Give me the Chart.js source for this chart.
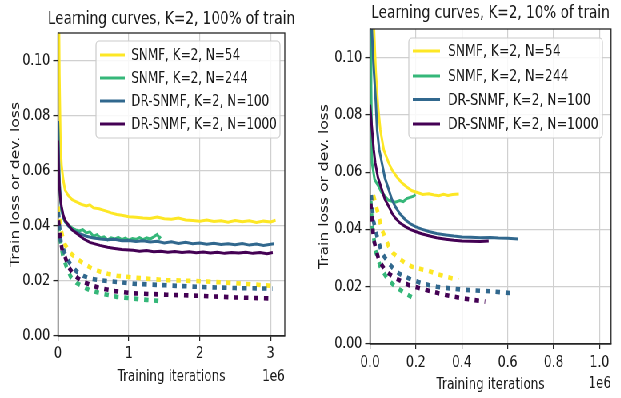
<!DOCTYPE html>
<html><head><meta charset="utf-8">
<script src="https://cdn.jsdelivr.net/npm/chart.js@4/dist/chart.umd.min.js"></script>
<style>
html,body{margin:0;padding:0;background:#fff;overflow:hidden;width:621px;height:398px;}
#wrap{position:absolute;left:0;top:0;width:777px;height:398px;transform:scaleX(0.8);transform-origin:0 0;}
#c1{position:absolute;left:0;top:0;}
#c2{position:absolute;left:388px;top:0;}
</style></head><body>
<div id="wrap"><canvas id="c1" width="388" height="398"></canvas><canvas id="c2" width="389" height="398"></canvas></div>
<script>
// ---------- data (x in units of 1e6 training iterations) ----------
const seriesNames = ['SNMF, K=2, N=54', 'SNMF, K=2, N=244', 'DR-SNMF, K=2, N=100', 'DR-SNMF, K=2, N=1000'];
const seriesColors = ['#fde725', '#35b779', '#31688e', '#440154'];

const xTicksFull = [0, 1, 2, 3];
const xTickLabelsFull = ['0', '1', '2', '3'];
const xTicksTen = [0, 0.2, 0.4, 0.6, 0.8, 1.0];
const xTickLabelsTen = ['0.0', '0.2', '0.4', '0.6', '0.8', '1.0'];
const yTicks = [0, 0.02, 0.04, 0.06, 0.08, 0.10];
const yTickLabels = ['0.00', '0.02', '0.04', '0.06', '0.08', '0.10'];

// 100% of train: solid curves
const full_snmf54 = [[0,0.16],[0.02,0.095],[0.035,0.07],[0.05,0.062],[0.075,0.0565],[0.1,0.053],[0.145,0.051],[0.2,0.0495],[0.26,0.0487],[0.33,0.0478],[0.4,0.0472],[0.45,0.0476],[0.5,0.0465],[0.58,0.0462],[0.66,0.0455],[0.75,0.0447],[0.83,0.0441],[0.9,0.0438],[1.0,0.0433],[1.1,0.0431],[1.2,0.0428],[1.3,0.0427],[1.4,0.0432],[1.5,0.0426],[1.6,0.0424],[1.7,0.0428],[1.8,0.0421],[1.9,0.0419],[2.0,0.0417],[2.1,0.0421],[2.2,0.0416],[2.3,0.0418],[2.4,0.0413],[2.5,0.0419],[2.6,0.0415],[2.7,0.0418],[2.8,0.0412],[2.9,0.0417],[3.0,0.0414],[3.07,0.042]];
const full_snmf244 = [[0,0.078],[0.01,0.065],[0.02,0.056],[0.035,0.049],[0.05,0.0455],[0.075,0.043],[0.1,0.0415],[0.15,0.0402],[0.2,0.0392],[0.25,0.0385],[0.3,0.0381],[0.35,0.0386],[0.4,0.0374],[0.45,0.0378],[0.5,0.0362],[0.55,0.0368],[0.6,0.0356],[0.65,0.036],[0.7,0.0349],[0.75,0.0356],[0.8,0.0352],[0.85,0.0358],[0.9,0.035],[0.95,0.0355],[1.0,0.0348],[1.05,0.0354],[1.1,0.0351],[1.15,0.0357],[1.2,0.035],[1.25,0.0356],[1.3,0.0352],[1.35,0.036],[1.4,0.0369],[1.43,0.0355],[1.45,0.0362]];
const full_dr100 = [[0,0.078],[0.01,0.066],[0.02,0.057],[0.035,0.05],[0.05,0.046],[0.075,0.0432],[0.1,0.0415],[0.15,0.0398],[0.2,0.0385],[0.3,0.0372],[0.4,0.0362],[0.5,0.0356],[0.6,0.0352],[0.7,0.0349],[0.8,0.0351],[0.9,0.0346],[1.0,0.0347],[1.1,0.0343],[1.2,0.0346],[1.3,0.0341],[1.4,0.0344],[1.5,0.0338],[1.6,0.0342],[1.7,0.0336],[1.8,0.034],[1.9,0.0335],[2.0,0.0338],[2.1,0.0333],[2.2,0.0337],[2.3,0.0332],[2.4,0.0335],[2.5,0.0331],[2.6,0.0336],[2.7,0.033],[2.8,0.0334],[2.9,0.0329],[3.0,0.0333],[3.05,0.0335]];
const full_dr1000 = [[0,0.071],[0.01,0.06],[0.02,0.054],[0.035,0.0495],[0.05,0.047],[0.075,0.0438],[0.1,0.042],[0.15,0.0402],[0.2,0.0385],[0.3,0.0365],[0.36,0.0353],[0.45,0.034],[0.59,0.0329],[0.7,0.0322],[0.8,0.0318],[0.9,0.0314],[1.06,0.0311],[1.15,0.0308],[1.25,0.031],[1.35,0.0306],[1.45,0.0308],[1.55,0.0304],[1.65,0.0307],[1.75,0.0303],[1.85,0.0306],[1.95,0.0302],[2.05,0.0305],[2.15,0.0301],[2.25,0.0304],[2.35,0.03],[2.45,0.0303],[2.55,0.0301],[2.65,0.0304],[2.75,0.03],[2.85,0.0303],[2.95,0.0299],[3.03,0.0303]];
// 100% of train: dotted curves
const full_snmf54_dot = [[0.005,0.047],[0.02,0.043],[0.04,0.039],[0.07,0.0355],[0.1,0.0332],[0.15,0.031],[0.2,0.0295],[0.28,0.0278],[0.36,0.0263],[0.48,0.0245],[0.59,0.0234],[0.7,0.0226],[0.83,0.0219],[1.0,0.0214],[1.3,0.0207],[1.53,0.0203],[2.0,0.0199],[2.5,0.0192],[3.03,0.0182]];
const full_snmf244_dot = [[0.005,0.04],[0.03,0.035],[0.07,0.029],[0.12,0.025],[0.18,0.0215],[0.26,0.0193],[0.36,0.0178],[0.45,0.0166],[0.6,0.0155],[0.83,0.0142],[1.06,0.0136],[1.25,0.0131],[1.44,0.0127]];
const full_dr100_dot = [[0.005,0.045],[0.02,0.04],[0.04,0.0345],[0.075,0.0315],[0.12,0.0285],[0.17,0.0263],[0.26,0.0235],[0.36,0.0218],[0.45,0.0209],[0.6,0.0202],[0.83,0.0196],[1.06,0.019],[1.53,0.0184],[2.0,0.0178],[2.5,0.0174],[3.03,0.0172]];
const full_dr1000_dot = [[0.005,0.042],[0.03,0.0359],[0.06,0.031],[0.1,0.0287],[0.15,0.025],[0.21,0.0227],[0.28,0.021],[0.36,0.0196],[0.47,0.0185],[0.59,0.0174],[0.8,0.0163],[1.06,0.0155],[1.53,0.015],[2.0,0.0146],[2.5,0.014],[3.03,0.0136]];

// 10% of train: solid curves
const ten_snmf54 = [[0.015,0.115],[0.025,0.095],[0.035,0.083],[0.045,0.0748],[0.06,0.0678],[0.08,0.0635],[0.096,0.0608],[0.12,0.058],[0.14,0.0562],[0.16,0.0548],[0.183,0.0535],[0.21,0.0528],[0.23,0.0522],[0.256,0.0525],[0.28,0.052],[0.3,0.0518],[0.32,0.0523],[0.34,0.0519],[0.36,0.0522],[0.387,0.0524]];
const ten_snmf244 = [[0.002,0.115],[0.005,0.09],[0.009,0.0632],[0.02,0.0575],[0.038,0.055],[0.05,0.053],[0.067,0.0515],[0.08,0.0502],[0.096,0.0498],[0.11,0.0495],[0.13,0.0501],[0.145,0.0497],[0.16,0.0508],[0.175,0.0512],[0.19,0.0516],[0.198,0.0522]];
const ten_dr100 = [[0.005,0.115],[0.015,0.098],[0.025,0.085],[0.031,0.0748],[0.04,0.068],[0.052,0.0632],[0.065,0.058],[0.082,0.0538],[0.095,0.0505],[0.11,0.048],[0.13,0.0455],[0.154,0.0434],[0.175,0.042],[0.198,0.041],[0.225,0.0401],[0.256,0.0393],[0.29,0.0386],[0.33,0.0381],[0.365,0.0377],[0.4,0.0374],[0.44,0.0373],[0.48,0.0371],[0.525,0.0372],[0.56,0.037],[0.6,0.0369],[0.646,0.0367]];
const ten_dr1000 = [[0,0.0836],[0.009,0.0748],[0.016,0.068],[0.023,0.0632],[0.035,0.058],[0.052,0.0538],[0.065,0.0505],[0.082,0.048],[0.095,0.0458],[0.11,0.044],[0.13,0.0423],[0.154,0.041],[0.175,0.04],[0.198,0.0393],[0.225,0.0385],[0.256,0.0378],[0.29,0.0371],[0.33,0.0366],[0.365,0.0362],[0.4,0.036],[0.44,0.0359],[0.48,0.0358],[0.517,0.036]];
// 10% of train: dotted curves
const ten_snmf54_dot = [[0.015,0.052],[0.031,0.0469],[0.052,0.0399],[0.082,0.034],[0.1,0.0318],[0.125,0.03],[0.15,0.0285],[0.183,0.027],[0.22,0.0262],[0.256,0.0255],[0.29,0.0245],[0.33,0.0235],[0.36,0.0229],[0.385,0.0222]];
const ten_snmf244_dot = [[0.003,0.05],[0.009,0.042],[0.023,0.0329],[0.045,0.027],[0.074,0.023],[0.11,0.02],[0.154,0.0177],[0.19,0.016]];
const ten_dr100_dot = [[0.005,0.052],[0.015,0.043],[0.031,0.0375],[0.052,0.0317],[0.082,0.0282],[0.1,0.0265],[0.125,0.0247],[0.15,0.0236],[0.183,0.0224],[0.22,0.0214],[0.256,0.0206],[0.29,0.02],[0.33,0.0196],[0.4,0.019],[0.46,0.0187],[0.525,0.0184],[0.58,0.018],[0.626,0.0177]];
const ten_dr1000_dot = [[0.003,0.049],[0.016,0.0364],[0.038,0.0294],[0.067,0.0255],[0.11,0.023],[0.169,0.0206],[0.242,0.0189],[0.33,0.0171],[0.4,0.016],[0.45,0.0154],[0.502,0.0148]];

// ---------- drawing ----------
const FONT = "'DejaVu Sans', sans-serif";
const TXT = '#1a1a1a';

function makeDatasets(solids, dots) {
  const ds = [];
  solids.forEach((d, i) => {
    ds.push({data: d, borderColor: seriesColors[i], borderWidth: 3, order: 4 - i});
    ds.push({data: dots[i], borderColor: seriesColors[i], borderWidth: 4.6, borderDash: [5.5, 7], borderCapStyle: 'butt', order: 4 - i});
  });
  return ds;
}

function decor(cfg) {
  return {
    id: 'decor',
    afterDraw(chart) {
      const ctx = chart.ctx, a = chart.chartArea;
      ctx.save();
      // spines
      ctx.strokeStyle = '#262626'; ctx.lineWidth = 1.3;
      ctx.strokeRect(a.left, a.top, a.right - a.left, a.bottom - a.top);
      // title
      ctx.fillStyle = TXT;
      ctx.font = '17px ' + FONT; ctx.textAlign = 'center'; ctx.textBaseline = 'alphabetic';
      ctx.fillText(cfg.title, (a.left + a.right) / 2, cfg.titleY);
      // x label & offset
      ctx.font = '15px ' + FONT;
      ctx.fillText('Training iterations', (a.left + a.right) / 2, cfg.xlabelY);
      ctx.textAlign = 'right';
      ctx.fillText('1e6', a.right, cfg.offsetY);
      // y label
      ctx.save();
      ctx.translate(cfg.ylabelX, (a.top + a.bottom) / 2);
      ctx.rotate(-Math.PI / 2);
      ctx.textAlign = 'center'; ctx.textBaseline = 'middle';
      ctx.font = '15.5px ' + FONT;
      ctx.fillText('Train loss or dev. loss', 0, 0);
      ctx.restore();
      // legend
      const L = cfg.legend;
      ctx.beginPath();
      const r = 4;
      ctx.moveTo(L.x + r, L.y);
      ctx.arcTo(L.x + L.w, L.y, L.x + L.w, L.y + L.h, r);
      ctx.arcTo(L.x + L.w, L.y + L.h, L.x, L.y + L.h, r);
      ctx.arcTo(L.x, L.y + L.h, L.x, L.y, r);
      ctx.arcTo(L.x, L.y, L.x + L.w, L.y, r);
      ctx.closePath();
      ctx.fillStyle = 'rgba(255,255,255,0.85)'; ctx.fill();
      ctx.strokeStyle = '#cccccc'; ctx.lineWidth = 1.2; ctx.stroke();
      seriesNames.forEach((name, i) => {
        const y = L.rows[i];
        ctx.strokeStyle = seriesColors[i]; ctx.lineWidth = 3;
        ctx.beginPath(); ctx.moveTo(L.s0, y); ctx.lineTo(L.s1, y); ctx.stroke();
        ctx.fillStyle = TXT; ctx.font = L.font + 'px ' + FONT;
        ctx.textAlign = 'left'; ctx.textBaseline = 'middle';
        ctx.fillText(name, L.tx, y + 1);
      });
      ctx.restore();
    }
  };
}

function makeChart(canvasId, datasets, xmax, xt, xtl, area, cfg) {
  const W = document.getElementById(canvasId).width, H = 398;
  return new Chart(document.getElementById(canvasId), {
    type: 'line',
    data: {datasets},
    options: {
      responsive: false, animation: false, devicePixelRatio: 1,
      layout: {padding: {left: 0, top: area.top, right: W - area.right, bottom: 0}},
      elements: {point: {radius: 0}, line: {tension: 0, fill: false}},
      plugins: {legend: {display: false}, tooltip: {enabled: false}, title: {display: false}},
      scales: {
        x: {
          type: 'linear', min: 0, max: xmax,
          afterFit: s => { s.height = H - area.bottom; },
          afterBuildTicks: s => { s.ticks = xt.map(v => ({value: v})); },
          ticks: {callback: (v, i) => xtl[i], font: {family: FONT, size: 15.5}, color: TXT, padding: cfg.xpad, maxRotation: 0, autoSkip: false},
          grid: {color: '#d0d0d0', lineWidth: 1.2, tickColor: '#262626', tickLength: 5, tickWidth: 1.2},
          border: {display: true, color: '#262626', width: 1.3}
        },
        y: {
          type: 'linear', min: 0, max: 0.11,
          afterFit: s => { s.width = area.left; },
          afterBuildTicks: s => { s.ticks = yTicks.map(v => ({value: v})); },
          ticks: {callback: (v, i) => yTickLabels[i], font: {family: FONT, size: 15.5}, color: TXT, padding: 4, autoSkip: false},
          grid: {color: '#d0d0d0', lineWidth: 1.2, tickColor: '#262626', tickLength: 6, tickWidth: 1.3},
          border: {display: true, color: '#262626', width: 1.3}
        }
      }
    },
    plugins: [decor(cfg)]
  });
}

makeChart('c1',
  makeDatasets([full_snmf54, full_snmf244, full_dr100, full_dr1000], [full_snmf54_dot, full_snmf244_dot, full_dr100_dot, full_dr1000_dot]),
  3.2, xTicksFull, xTickLabelsFull,
  {left: 72.5, right: 356, top: 33, bottom: 336},
  {title: 'Learning curves, K=2, 100% of train', titleY: 24, xlabelY: 381, offsetY: 381, ylabelX: 20, xpad: 4,
   legend: {x: 120, y: 41, w: 230, h: 97, s0: 125, s1: 156, tx: 164, rows: [55, 78, 101, 124], font: 15}});

makeChart('c2',
  makeDatasets([ten_snmf54, ten_snmf244, ten_dr100, ten_dr1000], [ten_snmf54_dot, ten_snmf244_dot, ten_dr100_dot, ten_dr1000_dot]),
  1.05, xTicksTen, xTickLabelsTen,
  {left: 74.5, right: 375.75, top: 29, bottom: 344},
  {title: 'Learning curves, K=2, 10% of train', titleY: 18, xlabelY: 389, offsetY: 388, ylabelX: 18, xpad: 5,
   legend: {x: 123, y: 38, w: 242, h: 100, s0: 128, s1: 162, tx: 172, rows: [51, 76, 99.5, 124], font: 15.5}});
</script>
</body></html>
